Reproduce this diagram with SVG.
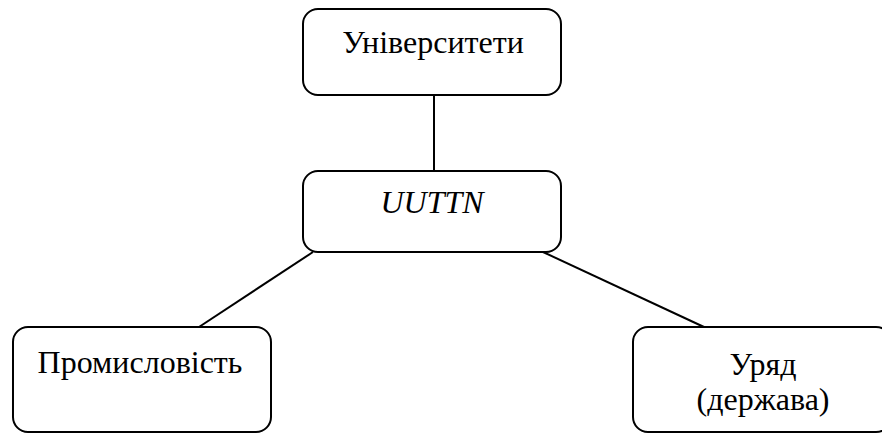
<svg xmlns="http://www.w3.org/2000/svg" width="882" height="434" viewBox="0 0 882 434">
  <style>
    .box { fill: #ffffff; stroke: #000000; stroke-width: 2; }
    .link { stroke: #000000; stroke-width: 2; fill: none; }
    text { font-family: 'Liberation Serif', 'DejaVu Serif', serif; font-size: 32px; fill: #000000; text-anchor: middle; }
    .ital { font-style: italic; }
  </style>
  <rect width="882" height="434" fill="#ffffff"/>
  <g id="connectors">
    <line class="link" x1="434" y1="95" x2="434" y2="171"/>
    <line class="link" x1="313" y1="252" x2="199" y2="327"/>
    <line class="link" x1="543" y1="252" x2="704" y2="327"/>
  </g>
  <g id="universities">
    <rect class="box" x="303" y="9" width="258" height="86" rx="15" ry="15"/>
    <text x="433" y="53" font-family="Liberation Serif, serif">Університети</text>
  </g>
  <g id="uuttn">
    <rect class="box" x="303" y="171" width="258" height="81" rx="15" ry="15"/>
    <text class="ital" x="432" y="213" font-family="Liberation Serif, serif">UUTTN</text>
  </g>
  <g id="industry">
    <rect class="box" x="13" y="327" width="258" height="105" rx="15" ry="15"/>
    <text x="140" y="373" font-family="Liberation Serif, serif">Промисловість</text>
  </g>
  <g id="government">
    <rect class="box" x="633" y="327" width="258" height="105" rx="15" ry="15"/>
    <text x="763" y="375" font-family="Liberation Serif, serif">Уряд</text>
    <text x="763" y="410" font-family="Liberation Serif, serif">(держава)</text>
  </g>
</svg>
